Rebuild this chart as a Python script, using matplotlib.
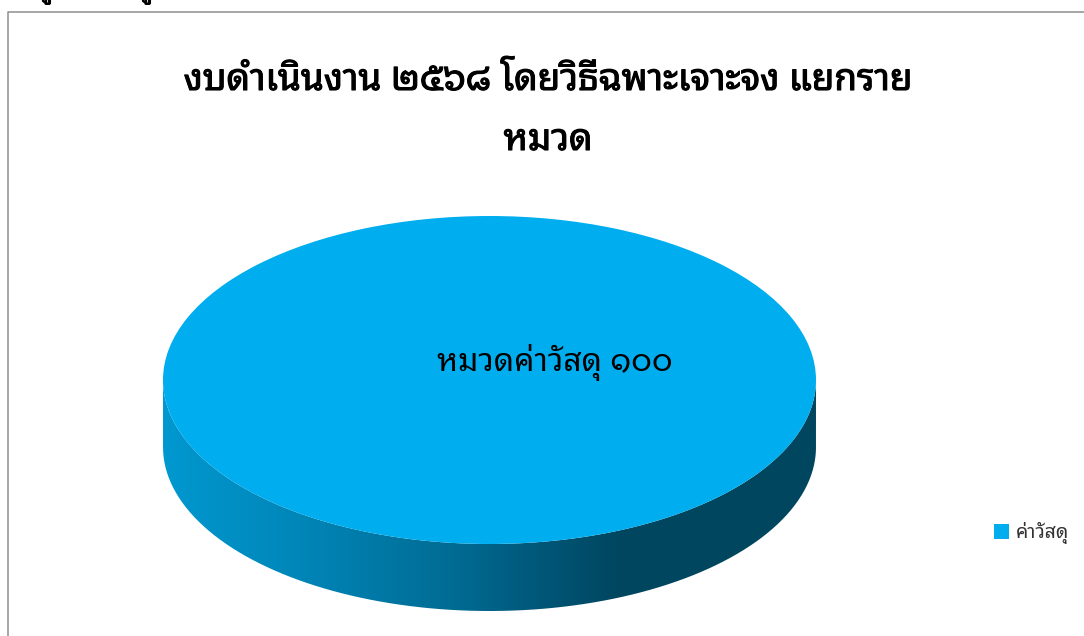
import numpy as np
import matplotlib
matplotlib.use('Agg')
import matplotlib.pyplot as plt
import matplotlib.patheffects as pe
from matplotlib.colors import LinearSegmentedColormap
from matplotlib.lines import Line2D
from matplotlib.patches import PathPatch, Rectangle
from matplotlib.path import Path

plt.rcParams['font.family'] = ['Noto Sans Thai Looped', 'Loma', 'DejaVu Sans']

W, H = 1084, 636

title_lines = ['งบดำเนินงาน ๒๕๖๘ โดยวิธีฉพาะเจาะจง แยกราย', 'หมวด']
categories = ['ค่าวัสดุ']
values = [100]
data_label = 'หมวดค่าวัสดุ'
thai_digits = str.maketrans('0123456789', '๐๑๒๓๔๕๖๗๘๙')

top_color = '#00AEEF'
# side shading, x position across the pie (0 left, 1 right) and colour
side_stops = [(0.0, '#0098D0'), (0.21, '#0086B8'), (0.44, '#006C94'),
              (0.57, '#00587A'), (0.70, '#00465F'), (1.0, '#00465F')]


def fx(px):
    return px / W


def fy(py):
    return 1 - py / H


fig = plt.figure(figsize=(W / 100, H / 100), dpi=100, facecolor='white')

# chart frame, only left and top are in view
fig.add_artist(Line2D([fx(8), fx(8), fx(W)], [0, fy(12), fy(12)], color='#8e8e8e', lw=1.1))

# the font has no bold here, a thin stroke thickens it
bold = [pe.withStroke(linewidth=0.8, foreground='black')]

# tails of the line above the chart, cut by the picture edge
for x in [47, 147]:
    fig.text(fx(x), fy(-3), 'รู', fontsize=17, ha='center', va='baseline', path_effects=bold)

for line, y in zip(title_lines, [90, 150]):
    fig.text(fx(548), fy(y), line, fontsize=26.5, ha='center', va='baseline', path_effects=bold)

# pie axes, unit circle squeezed to the tilted ellipse
left, right, top, bottom = 163, 816, 216, 611
rx = (right - left) / 2
ry = 164
depth = (bottom - top - 2 * ry) / ry
ax = fig.add_axes([fx(left), fy(bottom), (right - left) / W, (bottom - top) / H])

t = np.linspace(np.pi, 2 * np.pi, 200)
xs = np.cos(t)
ys = np.sin(t)
side_path = Path(np.r_[np.c_[xs, ys], np.c_[xs[::-1], ys[::-1] - depth], [[xs[0], ys[0]]]])
side_clip = PathPatch(side_path, transform=ax.transData, fc='none', ec='none')
ax.add_patch(side_clip)
cmap = LinearSegmentedColormap.from_list('side', side_stops)
im = ax.imshow(np.linspace(0, 1, 512)[None, :], cmap=cmap, extent=[-1, 1, -1 - depth, 0], aspect='auto', zorder=1)
im.set_clip_path(side_clip)

wedges, _ = ax.pie(values, colors=[top_color], radius=1, center=(0, 0), startangle=90, frame=True)
for w in wedges:
    w.set_zorder(2)
ax.set_aspect('auto')
ax.set_xlim(-1, 1)
ax.set_ylim(-1 - depth, 1)
ax.axis('off')

ax.text((554.5 - 489.5) / rx, 9 / ry, f'{data_label} {str(values[0]).translate(thai_digits)}',
        fontsize=23, ha='center', va='baseline', color='black', zorder=3)

handles = [Rectangle((0, 0), 1, 1, fc=top_color, ec='none')]
fig.legend(handles, categories, loc='center left', bbox_to_anchor=(fx(978), fy(533)), frameon=False,
           fontsize=14, handlelength=0.77, handleheight=0.77, handletextpad=0.4,
           labelcolor='#333333', borderpad=0.3)

fig.savefig('out.png', dpi=100)
